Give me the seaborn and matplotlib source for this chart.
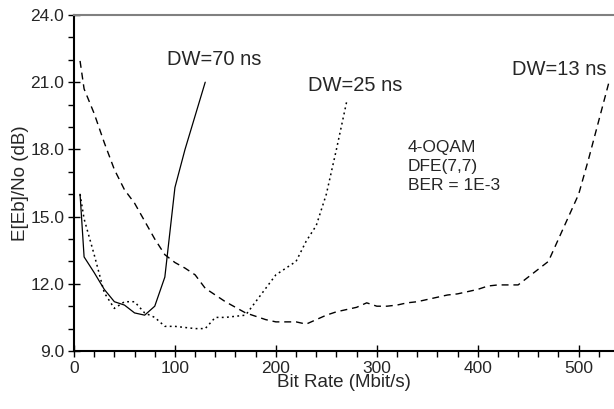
import matplotlib
matplotlib.use("Agg")
import matplotlib.pyplot as plt
import seaborn as sns
import numpy as np
from matplotlib.ticker import MultipleLocator, FormatStrFormatter

# Data
dw70_rate = [6, 10, 20, 30, 40, 50, 60, 70, 80, 90, 100, 110, 120, 130]
dw70_ebno = [16.0, 13.2, 12.5, 11.75, 11.2, 11.05, 10.7, 10.6, 11.0, 12.3, 16.3, 18.0, 19.5, 21.0]

dw25_rate = [6, 10, 20, 30, 40, 50, 60, 70, 80, 90, 100, 110, 120, 130, 140, 150,
             160, 170, 180, 190, 200, 210, 220, 230, 240, 250, 260, 270]
dw25_ebno = [16.0, 14.9, 13.3, 11.6, 10.9, 11.2, 11.2, 10.7, 10.5, 10.1, 10.1, 10.05,
             10.0, 10.0, 10.5, 10.5, 10.55, 10.6, 11.2, 11.8, 12.4, 12.7, 13.0, 13.9,
             14.6, 16.0, 18.0, 20.1]

dw13_rate = [6, 10, 20, 30, 40, 50, 60, 70, 80, 90, 100, 110, 120, 130, 140, 150,
             160, 170, 180, 190, 200, 210, 220, 230, 240, 250, 260, 270, 280, 290,
             300, 310, 320, 330, 340, 350, 360, 370, 380, 390, 400, 410, 420, 430,
             440, 450, 460, 470, 480, 490, 500, 510, 520, 530]
dw13_ebno = [21.95, 20.7, 19.6, 18.3, 17.1, 16.2, 15.6, 14.8, 14.0, 13.3, 12.95,
             12.7, 12.4, 11.8, 11.5, 11.2, 10.95, 10.7, 10.55, 10.4, 10.3, 10.3,
             10.3, 10.2, 10.4, 10.6, 10.75, 10.85, 10.95, 11.15, 11.0, 11.0, 11.05,
             11.15, 11.2, 11.3, 11.4, 11.5, 11.55, 11.65, 11.75, 11.9, 11.95, 11.95,
             11.95, 12.3, 12.65, 13.0, 14.0, 15.0, 16.0, 17.6, 19.3, 21.0]

curve_labels = ["DW=70 ns", "DW=25 ns", "DW=13 ns"]
info_lines = ["4-OQAM", "DFE(7,7)", "BER = 1E-3"]
x_label = "Bit Rate (Mbit/s)"
y_label = "E[Eb]/No (dB)"

sns.set_style("white")
plt.rcParams["font.family"] = ["Liberation Sans", "DejaVu Sans"]

fig = plt.figure(figsize=(6.14, 4.09), dpi=100)
ax = fig.add_axes([74 / 614, 1 - 351 / 409, 1 - 74 / 614, (351 - 15) / 409])

sns.lineplot(x=dw70_rate, y=dw70_ebno, ax=ax, color="black", linewidth=0.9, sort=False)
sns.lineplot(x=dw25_rate, y=dw25_ebno, ax=ax, color="black", linewidth=1.1,
             sort=False, linestyle=(0, (1.2, 2.2)))
sns.lineplot(x=dw13_rate, y=dw13_ebno, ax=ax, color="black", linewidth=1.0,
             sort=False, linestyle=(0, (5, 3.5)))

ax.set_xlim(0, 535)
ax.set_ylim(9, 24)
ax.xaxis.set_major_locator(MultipleLocator(100))
ax.xaxis.set_minor_locator(MultipleLocator(20))
ax.yaxis.set_major_locator(MultipleLocator(3))
ax.yaxis.set_minor_locator(MultipleLocator(1))
ax.yaxis.set_major_formatter(FormatStrFormatter("%.1f"))

ax.tick_params(axis="both", which="major", direction="inout", length=8, width=1,
               labelsize=12.5, color="black", bottom=True, left=True, pad=3)
ax.tick_params(axis="x", which="minor", direction="out", length=4, width=1,
               color="black", bottom=True)
ax.tick_params(axis="y", which="minor", direction="out", length=4, width=1,
               color="black", left=True)

for s in ["left", "bottom"]:
    ax.spines[s].set_color("black")
    ax.spines[s].set_linewidth(1.5)
ax.spines["right"].set_visible(False)
ax.spines["top"].set_color("#808080")
ax.spines["top"].set_linewidth(1.5)

ax.set_xlabel(x_label, fontsize=13.5, labelpad=-1)
ax.set_ylabel(y_label, fontsize=13.5, labelpad=1)

ax.text(139, 22.0, curve_labels[0], fontsize=14.5, ha="center", va="center")
ax.text(279, 20.87, curve_labels[1], fontsize=14.5, ha="center", va="center")
ax.text(481, 21.55, curve_labels[2], fontsize=14.5, ha="center", va="center")
ax.text(331, 18.4, "\n".join(info_lines), fontsize=12.5, ha="left", va="top",
        linespacing=1.3)

fig.savefig("out.png", dpi=100)
